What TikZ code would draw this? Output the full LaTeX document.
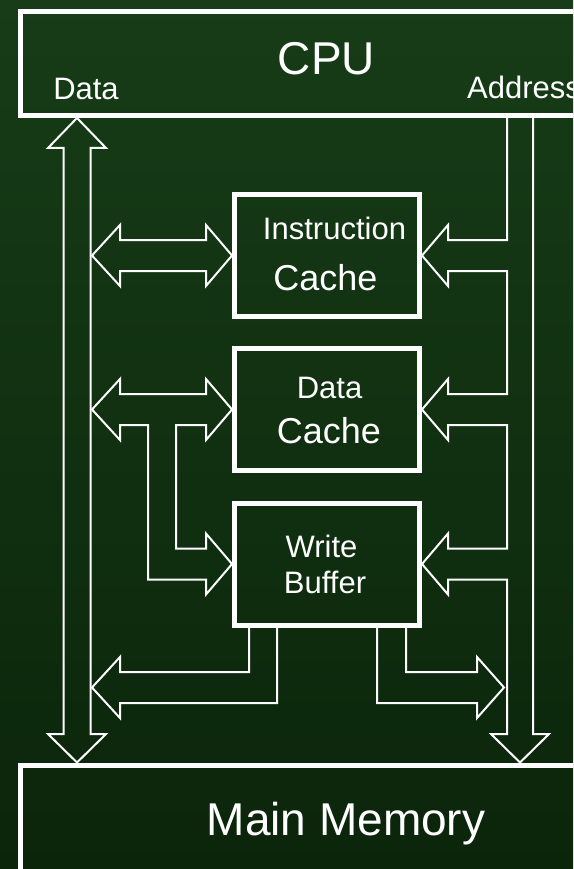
\documentclass[tikz,border=0pt]{standalone}
\usepackage{fontspec}
\setmainfont{Liberation Sans}
\usepackage{tikz}
\definecolor{bgtop}{RGB}{23,60,23}
\definecolor{bgmid}{RGB}{27,68,27}
\definecolor{bgbot}{RGB}{11,37,11}

\begin{document}
\begin{tikzpicture}[x=1pt, y=-1pt,
  unitbox/.style={draw=white, line width=5pt, minimum width=185pt, minimum height=122pt, inner sep=0pt},
  widebox/.style={draw=white, line width=5pt, minimum width=620pt, inner sep=0pt},
  bus/.style={draw=white, line width=2pt, line join=miter},
  bigtext/.style={text=white, font=\fontsize{46}{50}\selectfont, anchor=base, inner sep=0pt},
  smalltext/.style={text=white, font=\fontsize{31}{34}\selectfont, anchor=base, inner sep=0pt},
  cachetext/.style={text=white, font=\fontsize{36}{40}\selectfont, anchor=base, inner sep=0pt}]
\useasboundingbox (0,0) rectangle (573,869);
\clip (0,0) rectangle (573,869);
\shade[top color=bgtop, middle color=bgmid, bottom color=bgbot] (0,0) rectangle (573,869);
%\draw [very thin, gray] (0,0) grid[step=50] (573,869);
\node[widebox, minimum height=104pt] (cpu) at (330,63.5) {};
\node[widebox, minimum height=140pt] (mem) at (330,835) {};
\node[unitbox] (icache) at (327,255.5) {};
\node[unitbox] (dcache) at (327,409.5) {};
\node[unitbox] (wbuf) at (327,564) {};
\coordinate (dbus) at (92,0);
\node[bigtext] (cputxt) at (326.5,75) {CPU};
\node[smalltext] (datatxt) at (86,100) {Data};
\node[smalltext, anchor=base west] (addrtxt) at (467,99) {Address};
\node[smalltext] (itxt) at (334.5,239) {Instruction};
\node[cachetext] (ictxt) at (325.5,290) {Cache};
\node[smalltext] (dtxt) at (329.5,398) {Data};
\node[cachetext] (dctxt) at (329,443) {Cache};
\node[smalltext] (wtxt) at (321.5,557) {Write};
\node[smalltext] (btxt) at (325,593) {Buffer};
\node[bigtext] (memtxt) at (346,835) {Main Memory};
% data bus
\draw[bus] (63.5,734) -- (63.5,148) -- (48,148) -- (cpu.south -| 77,0) -- (106,148) -- (90.5,148)
  -- (90.5,734) -- (106,734) -- (mem.north -| 77,0) -- (48,734) -- cycle;
% address bus
\draw[bus] (cpu.south -| 507,0) -- (507,240) -- (448,240) -- (448,225) -- (icache.east) -- (448,286) -- (448,271)
  -- (507,271) -- (507,394) -- (448,394) -- (448,379) -- (dcache.east) -- (448,440) -- (448,425)
  -- (507,425) -- (507,548.5) -- (448,548.5) -- (448,533.5) -- (wbuf.east) -- (448,594.5) -- (448,579.5)
  -- (507,579.5) -- (507,734) -- (491,734) -- (mem.north -| 520,0) -- (549,734) -- (533,734) -- (cpu.south -| 533,0);
% caches <-> data bus
\draw[bus] (dbus |- icache.west) -- (120,225) -- (120,240) -- (206,240) -- (206,225) -- (icache.west)
  -- (206,286) -- (206,271) -- (120,271) -- (120,286) -- cycle;
\draw[bus] (dbus |- dcache.west) -- (120,379) -- (120,394) -- (206,394) -- (206,379) -- (dcache.west)
  -- (206,440) -- (206,425) -- (176,425) -- (176,548.5) -- (206,548.5) -- (206,533.5) -- (wbuf.west)
  -- (206,594.5) -- (206,579.5) -- (148,579.5) -- (148,425) -- (120,425) -- (120,440) -- cycle;
% write buffer out
\draw[bus] (wbuf.south -| 249,0) -- (249,672) -- (120,672) -- (120,657) -- (dbus |- 0,687.5) -- (120,718)
  -- (120,703) -- (277,703) -- (wbuf.south -| 277,0);
\draw[bus] (wbuf.south -| 377,0) -- (377,703) -- (477,703) -- (477,718) -- (504,687.5) -- (477,657)
  -- (477,672) -- (406,672) -- (wbuf.south -| 406,0);
\end{tikzpicture}
\end{document}
